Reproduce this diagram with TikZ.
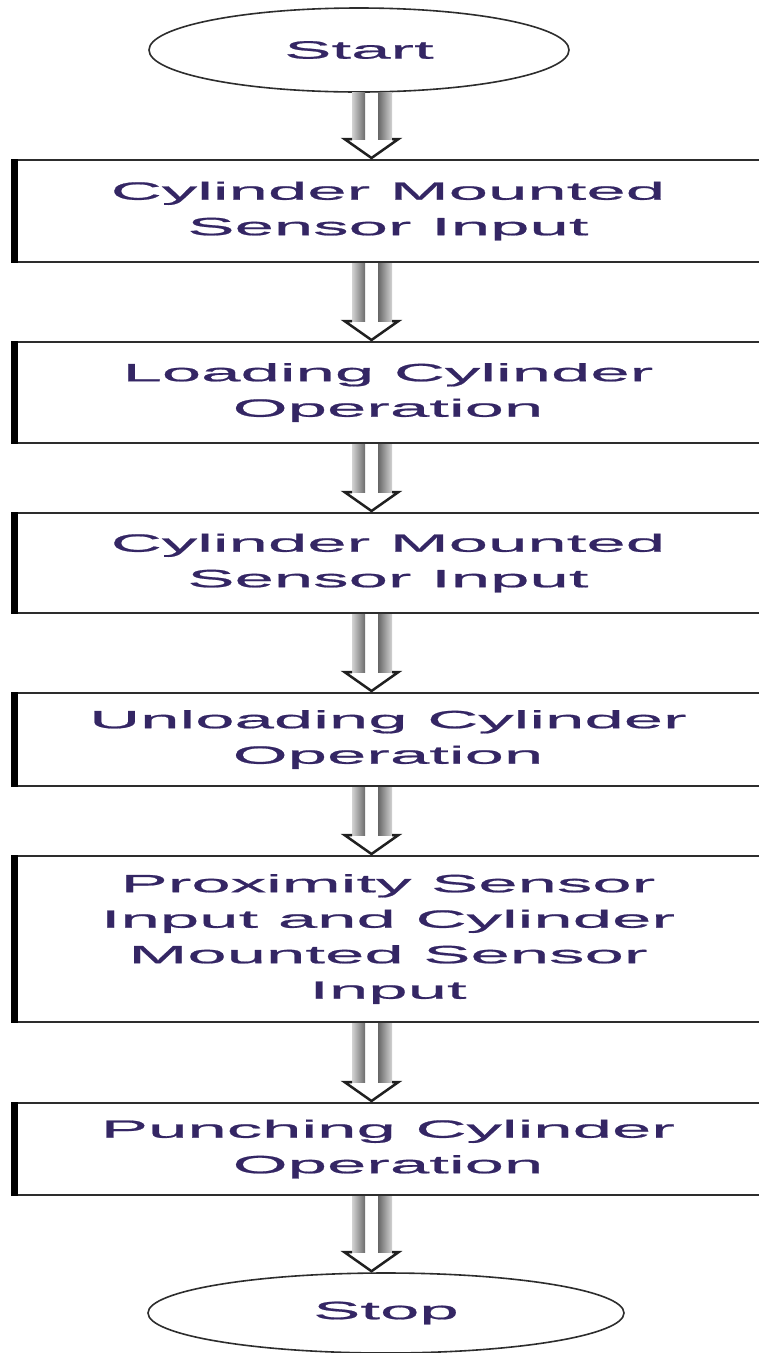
\documentclass[tikz,border=0pt]{standalone}
\usepackage{fontspec}
\usetikzlibrary{shapes.geometric,calc}
\newfontfamily\wfont[FakeStretch=2.83,FakeBold=0.8]{Liberation Sans}
\definecolor{txtcol}{RGB}{52,38,100}
\definecolor{edgecol}{RGB}{45,45,45}
\tikzset{
  flowtext/.style={text=txtcol, font=\wfont\fontsize{25}{35.5}\selectfont, align=center, inner sep=0pt},
  termbox/.style={flowtext, ellipse, draw=edgecol, line width=1.6pt},
  procbox/.style={flowtext, rectangle, draw=edgecol, line width=2pt, minimum width=752pt},
  leftedge/.style={line width=6.5pt, black},
  barleft/.style={left color=gray!35, right color=gray!85!black},
  barright/.style={left color=gray!80!black, right color=gray!35},
  headline/.style={draw=gray!25!black, line width=2.5pt, line join=miter},
}
\newcommand\flowarrow[2]{%
  \path (#1.south -| ax) coordinate (t) (#2.north -| ax) coordinate (b);
  \fill[barleft] ($(t)+(-19.5,0)$) rectangle ($(b)+(-6.5,-20)$);
  \fill[barright] ($(t)+(6.5,0)$) rectangle ($(b)+(20.5,-20)$);
  \draw[headline] ($(b)+(-19.5,-20)$) -- ($(b)+(-27,-20)$) -- ($(b)+(0,-1)$) -- ($(b)+(27,-20)$) -- ($(b)+(20.5,-20)$);
}
\begin{document}
\begin{tikzpicture}[x=1pt,y=-1pt]
\useasboundingbox (0,0) rectangle (759,1353);
\fill[white] (0,0) rectangle (759,1353);
\clip (0,0) rectangle (759,1353);
\coordinate (ax) at (371.5,0);

\node[termbox, minimum width=420pt, minimum height=84pt] (start) at (359,50) {Start};
\node[procbox, minimum height=102pt] (b1) at (388,211) {Cylinder Mounted\\Sensor Input};
\node[procbox, minimum height=101pt] (b2) at (388,392.5) {Loading Cylinder\\Operation};
\node[procbox, minimum height=100pt] (b3) at (388,563) {Cylinder Mounted\\Sensor Input};
\node[procbox, minimum height=93pt] (b4) at (388,739.5) {Unloading Cylinder\\Operation};
\node[procbox, minimum height=166pt] (b5) at (388,939) {Proximity Sensor\\Input and Cylinder\\Mounted Sensor\\Input};
\node[procbox, minimum height=92pt] (b6) at (388,1149) {Punching Cylinder\\Operation};
\node[termbox, minimum width=476pt, minimum height=80pt] (stop) at (386,1313) {Stop};

\foreach \n in {b1,b2,b3,b4,b5,b6}{
  \draw[leftedge] ([xshift=3.5pt]\n.north west) -- ([xshift=3.5pt]\n.south west);
}

\flowarrow{start}{b1}
\flowarrow{b1}{b2}
\flowarrow{b2}{b3}
\flowarrow{b3}{b4}
\flowarrow{b4}{b5}
\flowarrow{b5}{b6}
\flowarrow{b6}{stop}
\end{tikzpicture}
\end{document}
